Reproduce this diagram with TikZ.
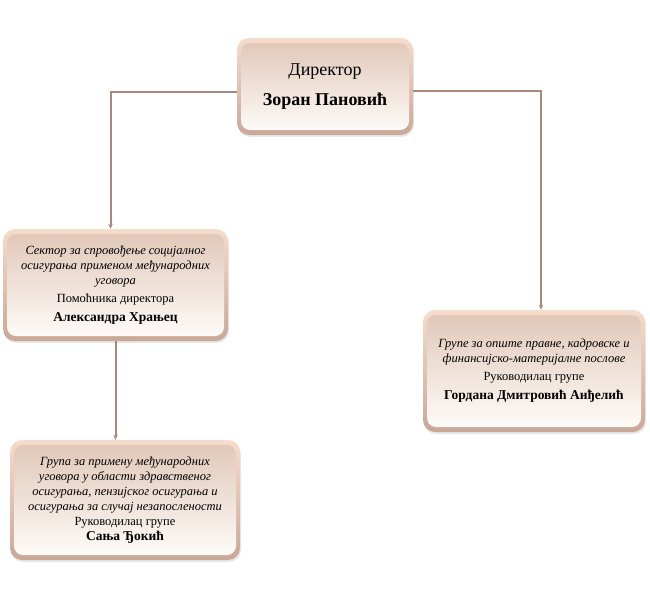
\documentclass[tikz,border=0pt]{standalone}
\usepackage{fontspec}
\setmainfont[Script=Cyrillic,Language=Serbian]{Liberation Serif}
\usetikzlibrary{arrows.meta,shadows}
\definecolor{rimtop}{HTML}{F6DCCB}
\definecolor{rimbot}{HTML}{C9A898}
\definecolor{intop}{HTML}{E0C6B6}
\definecolor{inbot}{HTML}{FFFDFB}
\definecolor{conncol}{HTML}{A88A7C}
\tikzset{
  box/.style={rounded corners=12pt, top color=rimtop, bottom color=rimbot,
    align=center, inner sep=0pt, font=\fontsize{12.5}{15}\selectfont,
    drop shadow={opacity=0.18, shadow xshift=1pt, shadow yshift=-2pt},
    path picture={\shade[top color=intop, bottom color=inbot, rounded corners=9pt]
      ([shift={(4pt,-5pt)}]path picture bounding box.north west) rectangle
      ([shift={(-4pt,5pt)}]path picture bounding box.south east);}},
  conn/.style={draw=conncol, line width=2pt, -{Stealth[length=5pt,width=4.5pt]}},
  namefont/.style={},
}
\newcommand{\nm}[1]{{\fontsize{13.5}{15}\selectfont\bfseries #1}}
\begin{document}
\begin{tikzpicture}[x=1pt,y=-1pt]
\useasboundingbox (0,0) rectangle (650,600);
\node[box, minimum width=176pt, minimum height=97pt] (dir) at (325,86.5)
  {{\fontsize{18}{20}\selectfont Директор}\\[12pt]
   {\fontsize{18}{20}\selectfont\bfseries Зоран Пановић}};
\node[box, minimum width=225pt, minimum height=112pt] (sec) at (115.5,285)
  {\itshape Сектор за спровођење социјалног\\
   \itshape осигурања применом међународних\\
   \itshape уговора\\[3pt]
   Помоћника директора\\[4pt]
   \nm{Александра Храњец}};
\node[box, minimum width=222pt, minimum height=122pt] (grp) at (534,371)
  {\itshape Групе за опште правне, кадровске и\\
   \itshape финансијско-материјалне послове\\[3pt]
   Руководилац групе\\[4pt]
   \nm{Гордана Дмитровић Анђелић}};
\node[box, minimum width=230pt, minimum height=120pt] (bot) at (125,500)
  {\itshape Група за примену међународних\\
   \itshape уговора у области здравственог\\
   \itshape осигурања, пензијског осигурања и\\
   \itshape осигурања за случај незапослености\\
   Руководилац групе\\
   \nm{Сања Ђокић}};
\draw[conn] ([yshift=-5pt]dir.west) -| ([xshift=-5pt]sec.north);
\draw[conn] ([yshift=-4pt]dir.east) -| ([xshift=7pt]grp.north);
\draw[conn] (sec.south) -- (sec.south |- bot.north);
\end{tikzpicture}
\end{document}
